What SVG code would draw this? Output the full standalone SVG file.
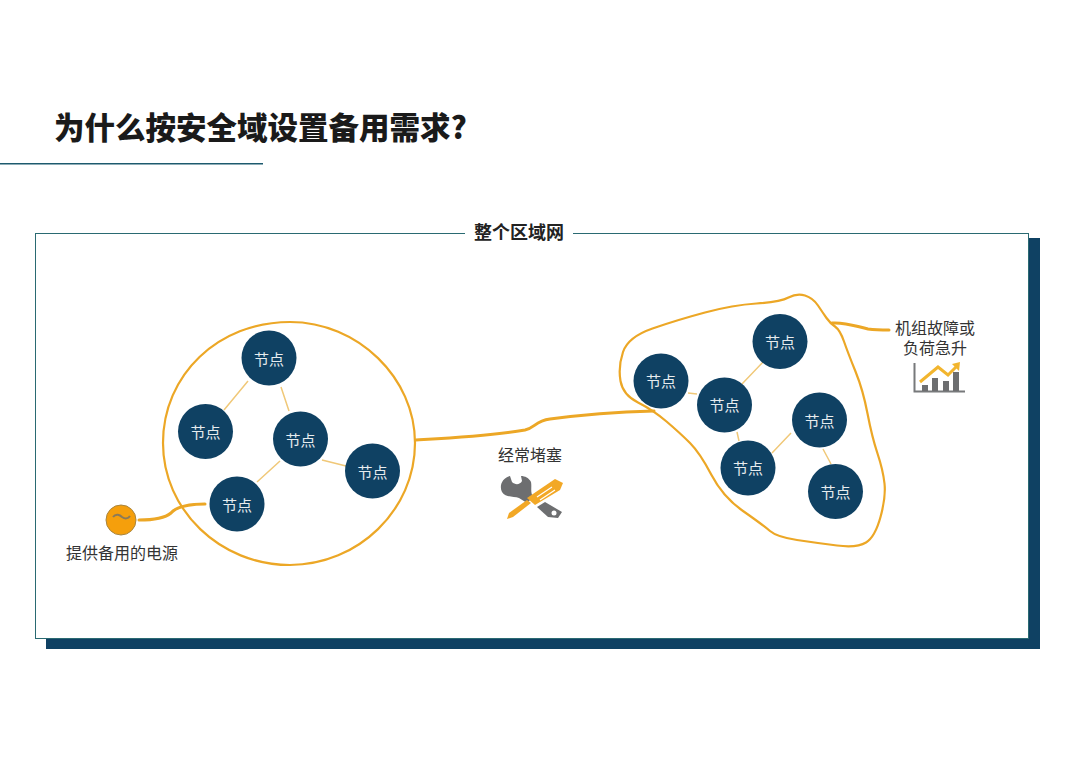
<svg xmlns="http://www.w3.org/2000/svg" width="1080" height="763" viewBox="0 0 1080 763">
<style>
text{font-family:"Noto Sans CJK SC","Noto Sans",sans-serif}
.n{fill:#0f4163}
.nt{fill:#fff;font-size:15px;text-anchor:middle;opacity:.9}
.l{fill:none;stroke:#f0c878;stroke-width:1.5}
.o{fill:none;stroke:#eca726;stroke-width:2.2;stroke-linecap:round;stroke-linejoin:round}
.c{fill:none;stroke:#eca726;stroke-width:3;stroke-linecap:round;stroke-linejoin:round}
.lab{fill:#333;font-size:16px;text-anchor:middle}
</style>
<rect width="1080" height="763" fill="#fff"/>
<text x="54" y="139" font-size="30.500" font-weight="900" fill="#1a1a1a">为什么按安全域设置备用需求?</text>
<rect x="0" y="163" width="263" height="1.500" fill="#1d5a6e"/>
<g id="frame">
<rect x="46" y="238" width="994" height="411" fill="#0f4163"/>
<rect x="35.500" y="233.500" width="993" height="405" fill="#fff" stroke="#2a6a72" stroke-width="1"/>
<rect x="465" y="225" width="108" height="18" fill="#fff"/>
<text x="519" y="239" font-size="18" font-weight="700" fill="#222" text-anchor="middle">整个区域网</text>
</g>
<g id="connectors">
<path class="l" d="M248 381L224 410M281 387L289 411M280 461L257 482M322 460L346 466M764 361L742 384M688 393L697 394M737 432L739 441M791 433L772 453M823 449L831 464"/>
<path class="c" d="M139 520C155 520 165 518 171 513C177 506 190 504 205 504"/>
<path class="c" d="M416 440C450 438 490 436 525 430C535 428 535 421 550 419C580 415 620 412 654 411"/>
<path class="c" d="M832 323C845 322 855 326 868 329C876 330 882 330 889 330"/>
</g>
<g id="region-left"><path d="M163 443C163 375 218 322 290 322C358 322 415 378 415 443C415 510 358 565 290 565C220 565 163 510 163 443Z" fill="none" stroke="#eca726" stroke-width="2.200"/></g>
<g id="region-right"><path class="o" d="M805 295.500Q813 298 818 305.500Q823 313 826.500 318Q830 323 835 326.500Q840 330 844 341.500Q848 353 855.500 371.500Q863 390 867.500 413.500Q872 437 877.500 453.500Q883 470 884.500 483.500Q886 497 880.500 517Q875 537 866 542.500Q857 548 837 545.500Q817 543 797 540Q777 537 770 531Q763 525 743 511Q723 497 711.500 475Q700 453 690 443Q680 433 666.500 421.500Q653 410 638 402.500Q623 395 620.500 381Q618 367 623 352Q628 337 652.500 328.500Q677 320 705 312.500Q733 305 756.500 303.500Q780 302 788.500 297.500Q797 293 805 295.500Z"/></g>
<g id="node-1"><circle class="n" cx="269" cy="358" r="27.500"/><text class="nt" x="269" y="365">节点</text></g>
<g id="node-2"><circle class="n" cx="205.500" cy="431.500" r="27.500"/><text class="nt" x="205.500" y="438">节点</text></g>
<g id="node-3"><circle class="n" cx="300.500" cy="439" r="27.500"/><text class="nt" x="300.500" y="446">节点</text></g>
<g id="node-4"><circle class="n" cx="372.500" cy="471" r="27.500"/><text class="nt" x="372.500" y="478">节点</text></g>
<g id="node-5"><circle class="n" cx="237" cy="504" r="27.500"/><text class="nt" x="237" y="511">节点</text></g>
<g id="node-6"><circle class="n" cx="661" cy="381" r="27.500"/><text class="nt" x="661" y="387">节点</text></g>
<g id="node-7"><circle class="n" cx="780" cy="341.500" r="27.500"/><text class="nt" x="780" y="348">节点</text></g>
<g id="node-8"><circle class="n" cx="724.500" cy="405" r="27.500"/><text class="nt" x="724.500" y="411">节点</text></g>
<g id="node-9"><circle class="n" cx="819.500" cy="420" r="27.500"/><text class="nt" x="819.500" y="427">节点</text></g>
<g id="node-10"><circle class="n" cx="748" cy="468" r="27.500"/><text class="nt" x="748" y="474">节点</text></g>
<g id="node-11"><circle class="n" cx="835.500" cy="491.500" r="27.500"/><text class="nt" x="835.500" y="498">节点</text></g>
<g id="source"><circle cx="121" cy="520" r="15" fill="#f59f0c" stroke="#a88540" stroke-width="1"/><path d="M113 517C116 513 120 515 122 517C125 519 128 519 130 516" fill="none" stroke="#8a7a5a" stroke-width="2"/><text class="lab" x="122" y="559">提供备用的电源</text></g>
<g id="congestion"><text class="lab" x="530" y="461">经常堵塞</text>
<path d="M510 476C502 478 499 486 502 492C506 498 514 496 519 498L527 503L533 497C530 492 532 487 531 482C529 478 525 476 521 476L522 481C520 485 515 485 512 482Z" fill="#6d6e70"/>
<path d="M537 507L545 502L562 512L558 518L548 517Z" fill="#6d6e70"/><circle cx="554" cy="513" r="2.500" fill="#fff"/>
<path d="M527 498L555 479L563 483L560 490L535 505Z" fill="#f2a826"/>
<path d="M537 497L552 487M540 500L555 490" stroke="#fff" stroke-width="1.200" fill="none"/>
<path d="M531 503L513 517L507 519L509 513L527 500Z" fill="#f2a826"/></g>
<g id="surge"><text class="lab"><tspan x="935" y="334">机组故障或</tspan><tspan x="935" y="354">负荷急升</tspan></text>
<path d="M914.500 363V391.500H965" fill="none" stroke="#77797b" stroke-width="2"/>
<rect x="922" y="385" width="6" height="6" fill="#6d6e70"/><rect x="932" y="378" width="6" height="13" fill="#6d6e70"/><rect x="943" y="381" width="6" height="10" fill="#6d6e70"/><rect x="953" y="372" width="6" height="19" fill="#6d6e70"/>
<path d="M920 382L938 367L948 375L957 366" fill="none" stroke="#f2b52e" stroke-width="3"/><path d="M952 364L960 362L959 371Z" fill="#f2b52e"/></g>
</svg>
